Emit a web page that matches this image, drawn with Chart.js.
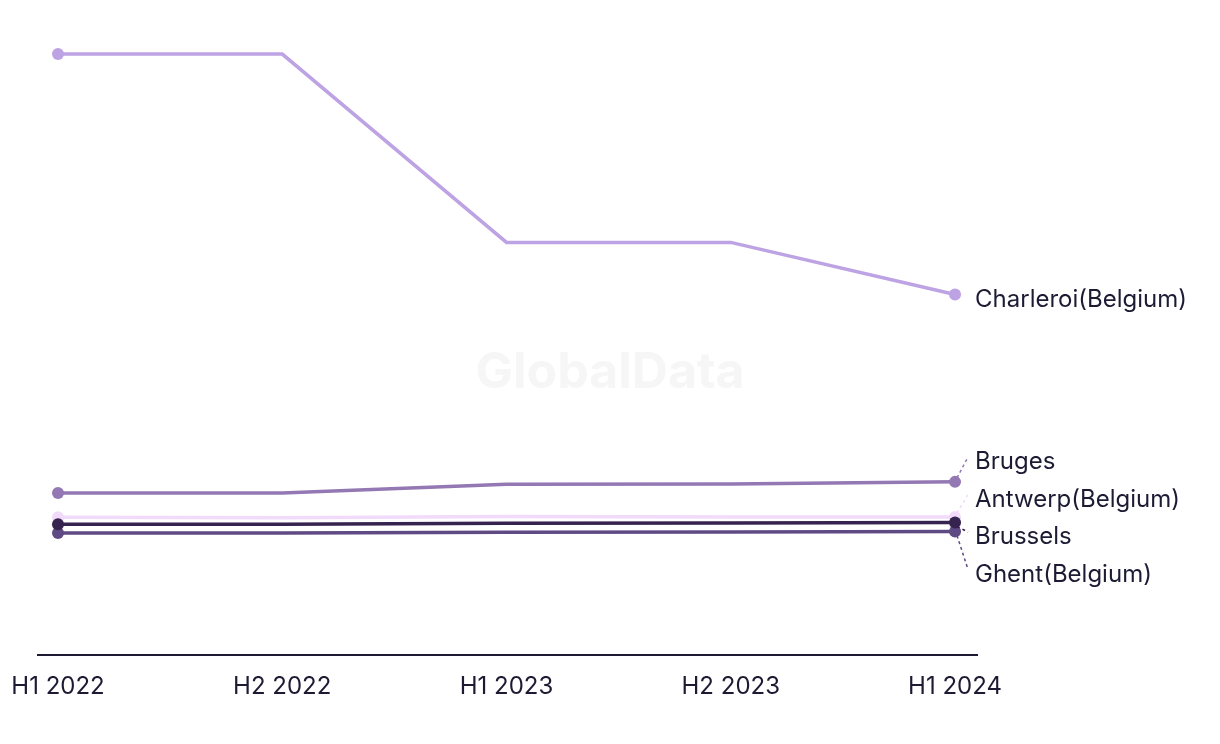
<!DOCTYPE html>
<html>
<head>
<meta charset="utf-8">
<script src="https://cdn.jsdelivr.net/npm/chart.js@4/dist/chart.umd.min.js"></script>
<style>
  html, body { margin: 0; padding: 0; background: #ffffff; }
  #wrap { width: 1220px; height: 744px; position: relative; }
</style>
</head>
<body>
<div id="wrap"><canvas id="c" width="1220" height="744"></canvas></div>
<script>
// ---- data ----
const categories = ["H1 2022", "H2 2022", "H1 2023", "H2 2023", "H1 2024"];
const seriesNames = ["Brussels", "Charleroi(Belgium)", "Bruges", "Antwerp(Belgium)", "Ghent(Belgium)"];
const brussels  = [65.3, 65.3, 65.8, 66.0, 66.2];
const charleroi = [300.0, 300.0, 206.0, 206.0, 180.0];
const bruges    = [81.0, 81.0, 85.3, 85.5, 86.5];
const antwerp   = [68.8, 68.6, 69.2, 69.0, 69.0];
const ghent     = [61.0, 61.0, 61.3, 61.5, 61.7];
const seriesValues = [brussels, charleroi, bruges, antwerp, ghent];
const seriesColors = ["#37234f", "#bda3e3", "#9378b3", "#f1dafa", "#5f4a83"];

const textColor = "#1d1b33";
const fontFamily = "Inter, 'Noto Sans', sans-serif";

function toPoints(arr) { return arr.map((v, i) => ({ x: i, y: v })); }

const datasets = seriesValues.map((vals, i) => ({
  label: seriesNames[i],
  data: toPoints(vals),
  borderColor: seriesColors[i],
  backgroundColor: seriesColors[i],
  borderWidth: 3.5,
  pointRadius: [6, 0, 0, 0, 6],
  pointHoverRadius: 6,
  pointBorderWidth: 0,
  tension: 0,
  fill: false
}));

const watermark = {
  id: "watermark",
  beforeDatasetsDraw(chart) {
    const ctx = chart.ctx;
    ctx.save();
    ctx.font = "bold 50px " + fontFamily;
    ctx.fillStyle = "#f6f6f6";
    ctx.textAlign = "center";
    ctx.textBaseline = "middle";
    ctx.fillText("GlobalData", 610, 373);
    ctx.restore();
  }
};

const endLabels = {
  id: "endLabels",
  afterDatasetsDraw(chart) {
    const ctx = chart.ctx;
    const gap = 37.5;
    const items = chart.data.datasets.map((ds, i) => {
      const meta = chart.getDatasetMeta(i);
      const pt = meta.data[meta.data.length - 1];
      return { i, x: pt.x, y: pt.y, label: ds.label, color: ds.borderColor };
    }).sort((a, b) => a.y - b.y);
    let clusters = [];
    const layout = c => {
      const mean = c.items.reduce((s, t) => s + t.y, 0) / c.items.length;
      const n = c.items.length;
      return { top: mean - gap * (n - 1) / 2, bottom: mean + gap * (n - 1) / 2 };
    };
    items.forEach(it => {
      clusters.push({ items: [it] });
      let merged = true;
      while (merged && clusters.length > 1) {
        merged = false;
        const a = clusters[clusters.length - 2], b = clusters[clusters.length - 1];
        const la = layout(a), lb = layout(b);
        if (lb.top - la.bottom < gap) {
          clusters.splice(clusters.length - 2, 2, { items: a.items.concat(b.items) });
          merged = true;
        }
      }
    });
    clusters.forEach(c => {
      const mean = c.items.reduce((s, t) => s + t.y, 0) / c.items.length;
      const n = c.items.length;
      c.items.forEach((t, k) => { t.ly = mean + gap * (k - (n - 1) / 2); });
    });
    ctx.save();
    items.forEach(t => {
      if (Math.abs(t.ly - t.y) > 3) {
        ctx.beginPath();
        ctx.setLineDash([3, 3]);
        ctx.lineWidth = 1.5;
        ctx.strokeStyle = t.color;
        const dir = t.ly < t.y ? -1 : 1;
        ctx.moveTo(t.x + 2, t.y + dir * 4);
        ctx.lineTo(t.x + 13, t.ly);
        ctx.stroke();
      }
      ctx.setLineDash([]);
      ctx.font = "24px " + fontFamily;
      ctx.fillStyle = textColor;
      ctx.textAlign = "left";
      ctx.textBaseline = "middle";
      ctx.fillText(t.label, t.x + 20, t.ly + 5);
    });
    ctx.restore();
  }
};

new Chart(document.getElementById("c"), {
  type: "line",
  data: { datasets },
  options: {
    responsive: false,
    animation: false,
    devicePixelRatio: 1,
    layout: { padding: { left: 38, right: 243, top: 20, bottom: 26 } },
    plugins: { legend: { display: false }, tooltip: { enabled: false } },
    scales: {
      x: {
        type: "linear",
        min: -0.0892,
        max: 4.098,
        grid: { display: false, drawTicks: false },
        border: { display: true, color: textColor, width: 2 },
        afterBuildTicks(axis) { axis.ticks = categories.map((_, i) => ({ value: i })); },
        afterFit(axis) { axis.paddingLeft = 0; axis.paddingRight = 0; },
        ticks: {
          padding: 17,
          color: textColor,
          font: { family: fontFamily, size: 24 },
          maxRotation: 0,
          autoSkip: false,
          callback: v => categories[v]
        }
      },
      y: {
        display: false,
        min: 0,
        max: 317
      }
    }
  },
  plugins: [watermark, endLabels]
});
</script>
</body>
</html>
